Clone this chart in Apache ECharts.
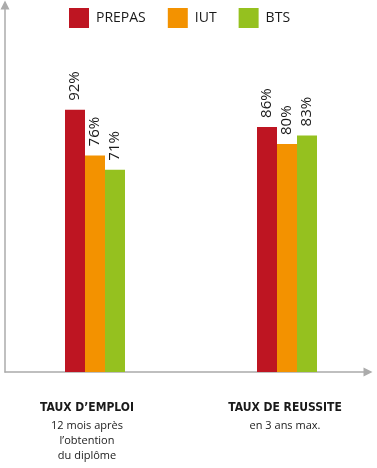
<!DOCTYPE html>
<html>
<head>
<meta charset="utf-8">
<script src="https://cdn.jsdelivr.net/npm/echarts@6/dist/echarts.min.js"></script>
<style>
  html, body { margin: 0; padding: 0; background: #fff; }
  #chart { width: 377px; height: 468px; }
</style>
</head>
<body>
<div id="chart"></div>
<script>
// données
const categories = ['TAUX D’EMPLOI', 'TAUX DE REUSSITE'];
const subtitles = [['12 mois après', 'l’obtention', 'du diplôme'], ['en 3 ans max.']];
const prepas = [92, 86];
const iut = [76, 80];
const bts = [71, 83];

const titleFont = "'DejaVu Sans Condensed', 'Liberation Sans Narrow', sans-serif";
const textFont = "'Open Sans', sans-serif";
const axisGray = '#ababab';

const makeSeries = (name, data, color) => ({
  name: name,
  type: 'bar',
  xAxisIndex: 1,
  yAxisIndex: 1,
  data: data,
  barWidth: 20,
  barGap: '0%',
  itemStyle: { color: color },
  label: {
    show: true,
    position: 'top',
    rotate: 90,
    align: 'left',
    verticalAlign: 'middle',
    distance: 9,
    formatter: '{c}%',
    fontFamily: textFont,
    fontSize: 15,
    color: '#1a1a1a'
  }
});

const axisLine = {
  show: true,
  lineStyle: { color: axisGray, width: 1.5 },
  symbol: ['none', 'triangle'],
  symbolSize: [9, 9]
};

const chart = echarts.init(document.getElementById('chart'));
chart.setOption({
  animation: false,
  legend: {
    left: 64,
    top: 3,
    itemWidth: 20,
    itemHeight: 20,
    itemGap: 22,
    icon: 'rect',
    textStyle: { fontFamily: textFont, fontSize: 14, color: '#1a1a1a', padding: [0, 0, 0, 2] },
    data: ['PREPAS', 'IUT', 'BTS']
  },
  grid: [
    // axes avec flèches
    { left: 5, right: 9, top: 5, bottom: 96, outerBoundsMode: 'none' },
    // barres
    { left: -1, width: 384, top: 87, bottom: 96, outerBoundsMode: 'none' }
  ],
  xAxis: [
    {
      gridIndex: 0,
      type: 'value',
      min: 0, max: 1,
      axisLine: axisLine,
      axisTick: { show: false },
      axisLabel: { show: false },
      splitLine: { show: false }
    },
    {
      gridIndex: 1,
      type: 'category',
      data: categories,
      axisLine: { show: false },
      axisTick: { show: false },
      axisLabel: {
        margin: 30,
        interval: 0,
        formatter: (v, i) => {
          const k = i === 0 ? 'a' : 'b';
          return '{t' + k + '|' + v + '}\n' + subtitles[i].map(s => '{s' + k + '|' + s + '}').join('\n');
        },
        rich: {
          ta: { fontFamily: titleFont, fontWeight: 'bold', fontSize: 12, lineHeight: 16, color: '#1a1a1a', padding: [0, 16, 5, 0] },
          sa: { fontFamily: textFont, fontSize: 11, lineHeight: 15, color: '#1a1a1a', padding: [0, 16, 0, 0] },
          tb: { fontFamily: titleFont, fontWeight: 'bold', fontSize: 12, lineHeight: 16, color: '#1a1a1a', padding: [0, 4, 5, 0] },
          sb: { fontFamily: textFont, fontSize: 11, lineHeight: 15, color: '#1a1a1a', padding: [0, 4, 0, 0] }
        }
      }
    }
  ],
  yAxis: [
    {
      gridIndex: 0,
      type: 'value',
      min: 0, max: 1,
      axisLine: axisLine,
      axisTick: { show: false },
      axisLabel: { show: false },
      splitLine: { show: false }
    },
    {
      gridIndex: 1,
      type: 'value',
      min: 0, max: 100,
      show: false
    }
  ],
  series: [
    makeSeries('PREPAS', prepas, '#be1522'),
    makeSeries('IUT', iut, '#f39200'),
    makeSeries('BTS', bts, '#95c11f')
  ]
});
</script>
</body>
</html>
